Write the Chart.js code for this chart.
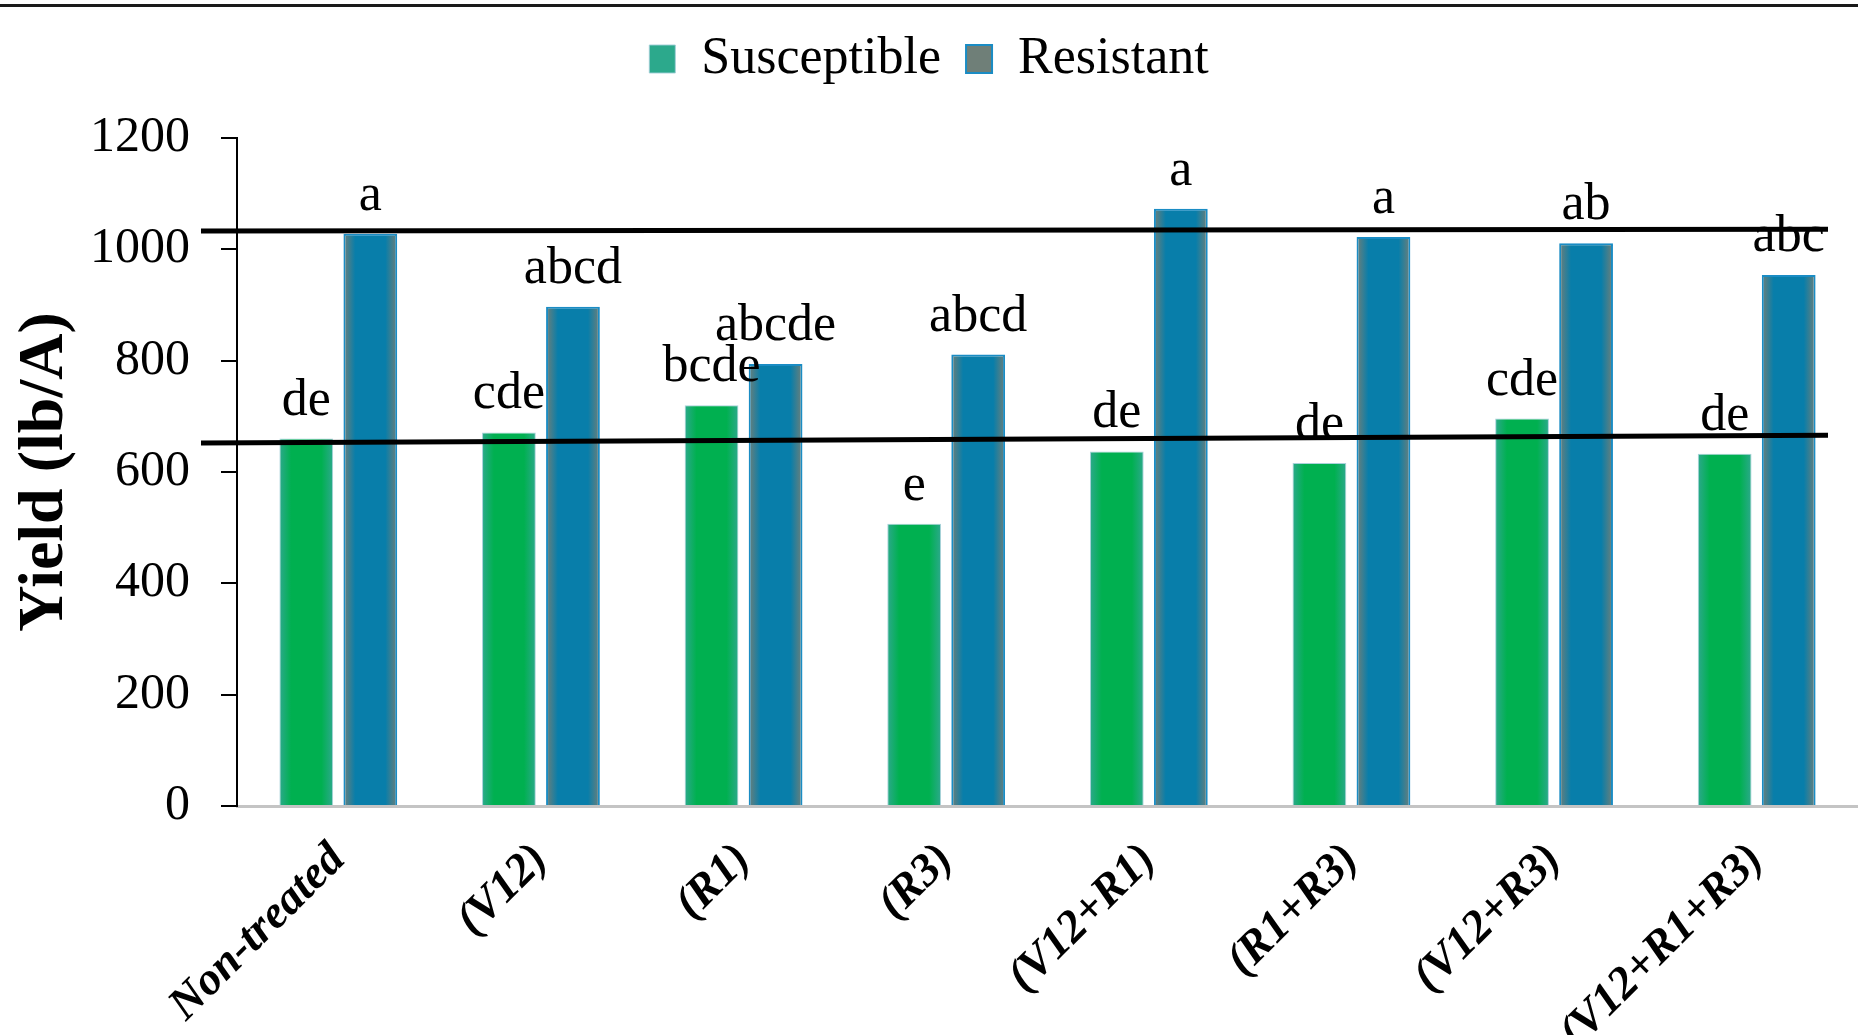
<!DOCTYPE html>
<html>
<head>
<meta charset="utf-8">
<script src="https://cdn.jsdelivr.net/npm/chart.js@4.4.0/dist/chart.umd.min.js"></script>
<style>
html, body { margin: 0; padding: 0; background: #fff; }
#wrap { width: 1858px; height: 1035px; position: relative; }
</style>
</head>
<body>
<div id="wrap"><canvas id="yieldChart"></canvas></div>
<script>
var treatments = ["Non-treated", "(V12)", "(R1)", "(R3)", "(V12+R1)", "(R1+R3)", "(V12+R3)", "(V12+R1+R3)"];
var susceptible = [660, 671, 720, 507, 637, 616, 696, 633];
var resistant = [1028, 897, 794, 811, 1073, 1022, 1011, 954];
var susceptibleLetters = ["de", "cde", "bcde", "e", "de", "de", "cde", "de"];
var resistantLetters = ["a", "abcd", "abcde", "abcd", "a", "a", "ab", "abc"];
var yTicks = [0, 200, 400, 600, 800, 1000, 1200];
// mean lines drawn across the chart: value at left end, value at right end
var resistantMean = [1033, 1036];
var susceptibleMean = [652, 666];

var serif = "'Liberation Serif', 'Times New Roman', serif";
var catPct = 0.632, barPct = 0.84;

function barFill(edge, mid) {
    return function (c) {
        var chart = c.chart, x = chart.scales && chart.scales.x;
        if (c.type !== "data" || !x || !x.width) return mid;
        var slot = x.width / treatments.length * catPct / 2;
        var w = slot * barPct;
        var cx = x.getPixelForValue(c.dataIndex) + (c.datasetIndex - 0.5) * slot;
        var g = chart.ctx.createLinearGradient(cx - w / 2, 0, cx + w / 2, 0);
        g.addColorStop(0, edge);
        g.addColorStop(0.22, mid);
        g.addColorStop(0.78, mid);
        g.addColorStop(1, edge);
        return g;
    };
}

var extras = {
    id: "extras",
    afterDatasetsDraw: function (chart) {
        var ctx = chart.ctx, y = chart.scales.y, area = chart.chartArea;
        var letters = [susceptibleLetters, resistantLetters];
        ctx.save();
        ctx.fillStyle = "#000";
        ctx.font = "52px " + serif;
        ctx.textAlign = "center";
        ctx.textBaseline = "alphabetic";
        letters.forEach(function (list, d) {
            chart.getDatasetMeta(d).data.forEach(function (bar, i) {
                ctx.fillText(list[i], bar.x, bar.y - 24);
            });
        });
        ctx.strokeStyle = "#000";
        ctx.lineWidth = 5;
        [resistantMean, susceptibleMean].forEach(function (m) {
            ctx.beginPath();
            ctx.moveTo(area.left - 36, y.getPixelForValue(m[0]));
            ctx.lineTo(area.right - 30, y.getPixelForValue(m[1]));
            ctx.stroke();
        });
        ctx.restore();
    },
    afterDraw: function (chart) {
        var ctx = chart.ctx;
        ctx.save();
        ctx.strokeStyle = "#1a1a1a";
        ctx.lineWidth = 3;
        ctx.beginPath();
        ctx.moveTo(0, 5.5);
        ctx.lineTo(chart.width, 5.5);
        ctx.stroke();
        ctx.restore();
    }
};

new Chart(document.getElementById("yieldChart"), {
    type: "bar",
    data: {
        labels: treatments,
        datasets: [{
            label: "Susceptible",
            data: susceptible,
            backgroundColor: barFill("#2ca98c", "#00b050"),
            borderColor: "rgba(160,205,215,0.9)",
            borderWidth: 1,
            categoryPercentage: catPct,
            barPercentage: barPct
        }, {
            label: "Resistant",
            data: resistant,
            backgroundColor: barFill("#6f7f78", "#087eaa"),
            borderColor: "#1a8cc4",
            borderWidth: 2,
            categoryPercentage: catPct,
            barPercentage: barPct
        }]
    },
    options: {
        responsive: true,
        maintainAspectRatio: false,
        animation: false,
        layout: { padding: { top: 8, left: 0, right: 0, bottom: 0 } },
        plugins: {
            tooltip: { enabled: false },
            legend: {
                position: "top",
                labels: {
                    color: "#000",
                    font: { family: serif, size: 52 },
                    boxWidth: 26,
                    boxHeight: 28,
                    padding: 25
                }
            }
        },
        scales: {
            x: {
                grid: { display: false, drawTicks: false },
                border: { color: "#c4c4c4", width: 3 },
                ticks: {
                    color: "#000",
                    font: { family: serif, size: 46, weight: "bold", style: "italic" },
                    minRotation: 45,
                    maxRotation: 45,
                    padding: 27,
                    autoSkip: false
                },
                afterFit: function (s) { s.height = 229; }
            },
            // empty spacer between legend and plot
            gap: {
                type: "category",
                axis: "x",
                position: "top",
                grid: { display: false, drawTicks: false },
                border: { display: false },
                ticks: { display: false },
                afterFit: function (s) { s.height = 43; }
            },
            y: {
                min: 0,
                max: 1200,
                afterBuildTicks: function (s) {
                    s.ticks = yTicks.map(function (v) { return { value: v }; });
                },
                grid: { display: true, drawOnChartArea: false, drawTicks: true, tickLength: 16, color: "#000", lineWidth: 2 },
                border: { color: "#000", width: 2 },
                ticks: {
                    color: "#000",
                    font: { family: serif, size: 50 },
                    padding: 31,
                    callback: function (v) { return String(v); }
                },
                title: {
                    display: true,
                    text: "Yield (lb/A)",
                    color: "#000",
                    font: { family: serif, size: 64, weight: "bold" },
                    padding: { top: 7, bottom: 0 }
                },
                afterFit: function (s) { s.width = 237; }
            }
        }
    },
    plugins: [extras]
});
</script>
</body>
</html>
